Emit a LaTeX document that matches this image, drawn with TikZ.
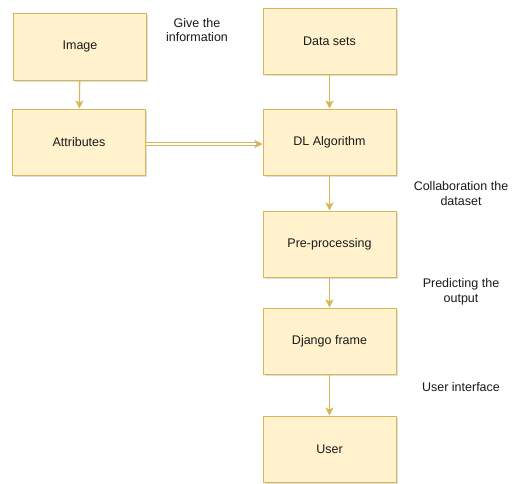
\documentclass[tikz,border=0pt]{standalone}
\usepackage{fontspec}
\setmainfont{Liberation Sans}
\usetikzlibrary{arrows.meta,shadows}
\definecolor{boxfill}{HTML}{FFF2CC}
\definecolor{boxline}{HTML}{D6B656}
\definecolor{txt}{HTML}{1A1A1A}
\tikzset{
  stepbox/.style={draw=boxline, fill=boxfill, line width=1pt, minimum width=133pt, minimum height=66pt,
    inner sep=0pt, font=\fontsize{12.5}{14}\selectfont, text=txt,
    drop shadow={shadow xshift=1.5pt, shadow yshift=-1.5pt, fill=black!25, opacity=0.5}},
  lbl/.style={align=center, font=\fontsize{12.5}{14.5}\selectfont, text=txt, inner sep=0pt},
  conn/.style={draw=boxline, line width=1.3pt, -{Stealth[length=8pt,width=8pt,inset=2pt]}},
  dconn/.style={draw=boxline, line width=0.9pt, double=white, double distance=2pt, -{Stealth[length=8pt,width=8pt,inset=2pt]}}
}
\begin{document}
\begin{tikzpicture}[x=1pt,y=-1pt]
\useasboundingbox[fill=white] (0,0) rectangle (514,483);
\node[stepbox, minimum height=67pt] (image) at (80,46.5) {Image};
\node[stepbox] (attr) at (79,142) {Attributes};
\node[stepbox] (data) at (329.5,41) {Data sets};
\node[stepbox] (dl) at (329.5,142) {DL Algorithm};
\node[stepbox] (pre) at (329.5,244) {Pre-processing};
\node[stepbox] (django) at (329.5,341) {Django frame};
\node[stepbox] (user) at (329.5,449) {User};
\draw[conn] (image) -- (attr);
\draw[conn] (data) -- (dl);
\draw[dconn] (attr.east |- 0,144) -- (dl.west |- 0,144);
\draw[conn] (dl) -- (pre);
\draw[conn] (pre) -- (django);
\draw[conn] (django) -- (user);
\node[lbl] (l1) at (197,30) {Give the\\information};
\node[lbl] (l2) at (461,193.5) {Collaboration the\\dataset};
\node[lbl] (l3) at (461,292) {Predicting the\\output};
\node[lbl] (l4) at (461,387) {User interface};
\end{tikzpicture}
\end{document}
